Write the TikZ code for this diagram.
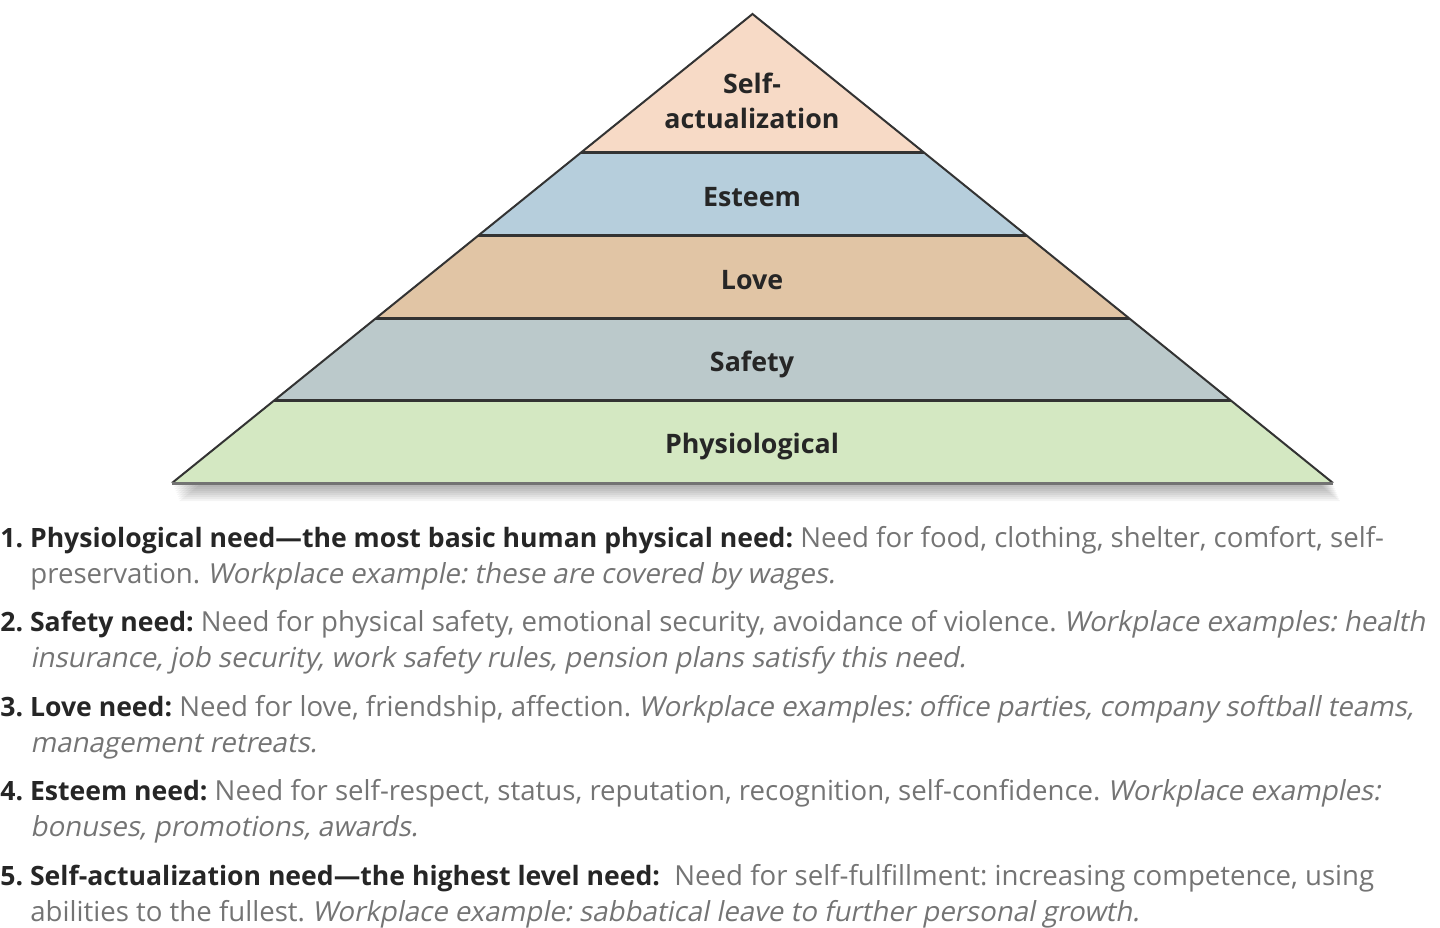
\documentclass[tikz,border=0pt]{standalone}
\usepackage{fontspec}
\setmainfont{Open Sans}
\newfontfamily\slantfont[FakeSlant=0.2]{Open Sans}
\usetikzlibrary{calc}
\frenchspacing

\definecolor{selfcol}{HTML}{F7DAC6}
\definecolor{esteemcol}{HTML}{B6CEDC}
\definecolor{lovecol}{HTML}{E1C5A5}
\definecolor{safetycol}{HTML}{BBC9CB}
\definecolor{physcol}{HTML}{D4E8C2}
\definecolor{headcol}{HTML}{262626}
\definecolor{bodycol}{HTML}{747474}

\newcommand{\needhead}[1]{{\fontsize{13.3}{15}\selectfont\textcolor{headcol}{\bfseries #1}}}
\newcommand{\workplace}[1]{{\slantfont #1}}

\begin{document}
\begin{tikzpicture}[x=0.5pt, y=-0.5pt,
	level/.style={anchor=base, align=center, inner sep=0pt,
		font=\fontsize{13.4}{17.5}\selectfont\bfseries, text=headcol},
	needline/.style={anchor=base west, inner sep=0pt,
		font=\fontsize{13.8}{15}\selectfont, text=bodycol},
	boundary/.style={draw=black!80, line width=1.5pt}
	]
	\useasboundingbox (0,0) rectangle (1440,927);
	\coordinate (top) at (752.5,14);
	\coordinate (bl) at (172,483);
	\coordinate (br) at (1333,483);

	% soft shadow
	\foreach \s in {2,4,...,18}
		\fill[black, opacity=0.045] ($(top)+(0.4*\s,\s)$) -- ($(bl)+(0.4*\s,\s)$) -- ($(br)+(0.4*\s,\s)$) -- cycle;
	\fill[white] (top) -- (bl) -- (br) -- cycle;

	% layers
	\begin{scope}
		\clip (top) -- (bl) -- (br) -- cycle;
		\fill[selfcol] (0,0) rectangle (1440,152);
		\fill[esteemcol] (0,152) rectangle (1440,235);
		\fill[lovecol] (0,235) rectangle (1440,318);
		\fill[safetycol] (0,318) rectangle (1440,400);
		\fill[physcol] (0,400) rectangle (1440,483);
		\foreach \y in {152,235,318,400}
			\draw[boundary] (0,\y) -- (1440,\y);
	\end{scope}
	\draw[black!80, line width=1pt] (bl) -- (top) -- (br);
	\draw[black!55, line width=1.5pt] (bl) -- (br);

	\node[level] (selfact) at (752,128) {Self-\\actualization};
	\node[level] (esteem) at (752,206) {Esteem};
	\node[level] (love) at (752,289) {Love};
	\node[level] (safety) at (752,371) {Safety};
	\node[level] (physio) at (752,453) {Physiological};

	% the five needs
	\node[needline] (need1) at (0,547) {\needhead{1. Physiological need—the most basic human physical need:} Need for food, clothing, shelter, comfort, self-};
	\node[needline] (need1b) at (30,583) {preservation. \workplace{Workplace example: these are covered by wages.}};
	\node[needline] (need2) at (0,631) {\needhead{2. Safety need:} Need for physical safety, emotional security, avoidance of violence. \workplace{Workplace examples: health}};
	\node[needline] (need2b) at (30,667) {\workplace{insurance, job security, work safety rules, pension plans satisfy this need.}};
	\node[needline] (need3) at (0,716) {\needhead{3. Love need:} Need for love, friendship, affection. \workplace{Workplace examples: office parties, company softball teams,}};
	\node[needline] (need3b) at (30,752) {\workplace{management retreats.}};
	\node[needline] (need4) at (0,800) {\needhead{4. Esteem need:} Need for self-respect, status, reputation, recognition, self-confidence. \workplace{Workplace examples:}};
	\node[needline] (need4b) at (30,836) {\workplace{bonuses, promotions, awards.}};
	\node[needline] (need5) at (0,885) {\needhead{5. Self-actualization need—the highest level need:}\ \ Need for self-fulfillment: increasing competence, using};
	\node[needline] (need5b) at (30,921) {abilities to the fullest. \workplace{Workplace example: sabbatical leave to further personal growth.}};
\end{tikzpicture}
\end{document}
